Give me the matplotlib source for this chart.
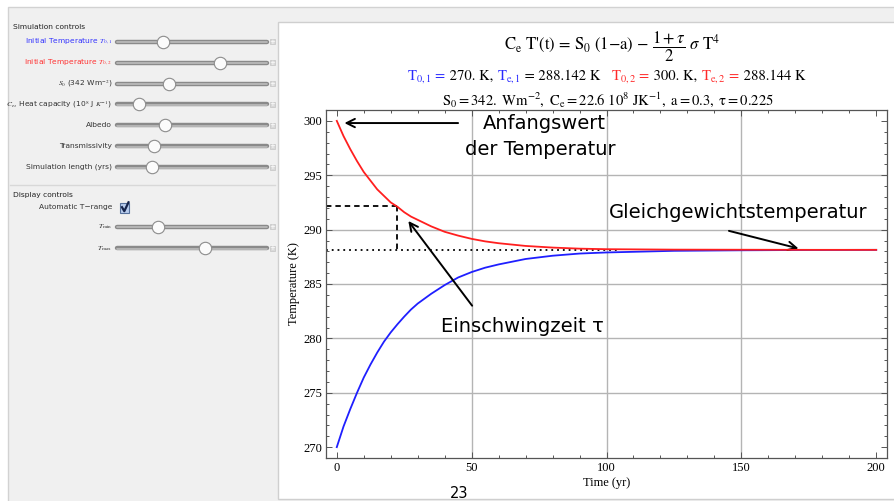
import matplotlib
matplotlib.use("Agg")
import matplotlib.pyplot as plt
from matplotlib.patches import Rectangle
from matplotlib.offsetbox import TextArea, HPacker, AnchoredOffsetbox

plt.rcParams["mathtext.fontset"] = "stix"

# temperature curves (years, K)
t_yr = [0, 2.5, 5, 7.5, 10, 12.5, 15, 17.5, 20, 22.5, 25, 27.5, 30,
        35, 40, 45, 50, 55, 60, 70, 80, 90, 100, 125, 150, 175, 200]
T_red = [300.0, 298.6, 297.4, 296.3, 295.3, 294.5, 293.7, 293.1, 292.5, 292.1, 291.6, 291.2, 290.9,
         290.3, 289.8, 289.45, 289.15, 288.92, 288.75, 288.5, 288.35, 288.25, 288.2, 288.16, 288.15, 288.14, 288.14]
T_blue = [270.0, 271.9, 273.5, 275.0, 276.4, 277.6, 278.7, 279.7, 280.55, 281.3, 282.0, 282.65, 283.2,
          284.1, 284.9, 285.6, 286.1, 286.5, 286.8, 287.3, 287.6, 287.8, 287.9, 288.05, 288.1, 288.13, 288.14]
T_eq = 288.14
tau_t, tau_T = 22.4, 292.2

x_ticks = [0, 50, 100, 150, 200]
y_ticks = [270, 275, 280, 285, 290, 295, 300]

# control panel: label, colour, knob position (0..1)
sim_controls = [
    (r"Initial Temperature $T_{0,1}$", "#3333ff", 0.305),
    (r"Initial Temperature $T_{0,2}$", "#ff3333", 0.687),
    (r"$S_0$ (342 Wm$^{-2}$)", "#333333", 0.347),
    (r"$C_e$, Heat capacity (10$^8$ J $K^{-1}$)", "#333333", 0.149),
    ("Albedo", "#333333", 0.32),
    ("Transmissivity", "#333333", 0.249),
    ("Simulation length (yrs)", "#333333", 0.231),
]
disp_controls = [(r"$T_{\rm min}$", 0.275), (r"$T_{\rm max}$", 0.587)]

fig = plt.figure(figsize=(8.94, 5.01), dpi=100)
fig.patch.set_facecolor("white")

bg = fig.add_axes([0, 0, 1, 1])
bg.set_xlim(0, 894)
bg.set_ylim(501, 0)
bg.axis("off")

bg.add_patch(Rectangle((8, 7), 900, 510, facecolor="#f0f0f0", edgecolor="#d2d2d2", lw=1))
bg.add_patch(Rectangle((278, 22), 640, 477, facecolor="white", edgecolor="#cfcfcf", lw=1))

small = dict(fontsize=5.4, family="DejaVu Sans")
track_x0, track_x1 = 117, 267


def slider(y, knob):
    bg.plot([track_x0, track_x1], [y, y], color="#8a8a8a", lw=3.2, solid_capstyle="round")
    bg.plot([track_x0, track_x1], [y + 0.6, y + 0.6], color="#bdbdbd", lw=1.2, solid_capstyle="round")
    bg.scatter([track_x0 + knob * (track_x1 - track_x0)], [y], s=80, facecolor="#fbfbfb",
               edgecolor="#8c8c8c", linewidth=0.8, zorder=3)
    bg.add_patch(Rectangle((270, y - 2.6), 5.2, 5.2, facecolor="#d9d9d9", edgecolor="#c4c4c4", lw=0.5))
    bg.text(272.6, y, "+", color="white", fontsize=5, ha="center", va="center")


bg.text(13, 27, "Simulation controls", color="#222222", va="center", **small)
for i, (lab, col, knob) in enumerate(sim_controls):
    y = 41.7 + i * 20.9
    bg.text(112, y, lab, color=col, ha="right", va="center", **small)
    slider(y, knob)

bg.plot([10, 275], [185, 185], color="#d8d8d8", lw=1)
bg.text(13, 195, "Display controls", color="#222222", va="center", **small)
bg.text(112, 207.5, "Automatic T\u2212range", color="#333333", ha="right", va="center", **small)
bg.add_patch(Rectangle((120, 203.3), 9.3, 9.3, facecolor="#b8cdee", edgecolor="#56719c", lw=0.8))
bg.plot([122, 124.3, 128.5], [207.2, 211.2, 202.3], color="#14234a", lw=1.6)
for j, (lab, knob) in enumerate(disp_controls):
    y = 226.7 + j * 21.6
    bg.text(112, y, lab, color="#333333", ha="right", va="center", **small)
    slider(y, knob)

bg.text(459, 494, "23", fontsize=10.5, ha="center", va="center", family="DejaVu Sans")

# equation block above the plot
serif = dict(fontsize=10.5, family="STIXGeneral")
bg.text(612, 47, "C$_\\mathrm{e}$ T'(t) = S$_0$ (1\u2212a) \u2212 $\\dfrac{1+\\tau}{2}\\ \\sigma$ T$^4$",
        ha="center", va="center", fontsize=12, family="STIXGeneral")

pieces = [
    (r"$\mathrm{T_{0,1}}$ =", "#2a2aff"), (" 270. K, ", "black"),
    (r"$\mathrm{T_{e,1}}$", "#2a2aff"), (" = 288.142 K   ", "black"),
    (r"$\mathrm{T_{0,2}}$ =", "#ff2a2a"), (" 300. K, ", "black"),
    (r"$\mathrm{T_{e,2}}$ =", "#ff2a2a"), (" 288.144 K", "black"),
]
row = HPacker(children=[TextArea(s, textprops=dict(color=c, **serif)) for s, c in pieces],
              align="baseline", pad=0, sep=0)
bg.add_artist(AnchoredOffsetbox(loc="center", child=row, bbox_to_anchor=(606, 77),
                                bbox_transform=bg.transData, frameon=False, pad=0, borderpad=0))

bg.text(608, 100, r"$\mathrm{S_0 = 342.\ Wm^{-2},\ C_e = 22.6\ 10^8\ JK^{-1},\ a = 0.3,\ \tau = 0.225}$",
        ha="center", va="center", **serif)

# main plot
ax = fig.add_axes([326 / 894, 1 - 458 / 501, (887 - 326) / 894, (458 - 110) / 501])
ax.plot(t_yr, T_blue, color="#1f1fff", lw=1.3, zorder=3)
ax.plot(t_yr, T_red, color="#ff1f1f", lw=1.3, zorder=4)

ax.set_xlim(-4, 204)
ax.set_ylim(269.0, 301.0)
ax.set_xticks(x_ticks)
ax.set_yticks(y_ticks)
ax.set_xticks(range(0, 201, 10), minor=True)
ax.set_yticks(range(270, 301), minor=True)
for v in x_ticks[1:-1]:
    ax.axvline(v, color="#b4b4b4", lw=1, zorder=1)
for v in y_ticks[1:-1]:
    ax.axhline(v, color="#b4b4b4", lw=1, zorder=1)

ax.tick_params(which="both", direction="in", top=True, right=True, color="#555555", width=0.7)
ax.tick_params(which="major", length=4.5, labelsize=9, pad=3)
ax.tick_params(which="minor", length=2.5)
for lab in ax.get_xticklabels() + ax.get_yticklabels():
    lab.set_family("Liberation Serif")
for sp in ax.spines.values():
    sp.set_color("#555555")
    sp.set_linewidth(0.9)
ax.set_xlabel("Time (yr)", family="Liberation Serif", fontsize=9, labelpad=2)
ax.set_ylabel("Temperature (K)", family="Liberation Serif", fontsize=9, labelpad=2)

# time constant and equilibrium markers
ax.plot([-4, 104], [T_eq, T_eq], color="black", lw=1.3, ls=(0, (1, 2.2)), zorder=2)
ax.plot([-4, tau_t], [tau_T, tau_T], color="black", lw=1.3, ls=(0, (3, 2.2)), zorder=2)
ax.plot([tau_t, tau_t], [tau_T, T_eq], color="black", lw=1.3, ls=(0, (3, 2.2)), zorder=2)

note = dict(fontsize=14, family="DejaVu Sans", color="black")
arrow = dict(arrowstyle="->,head_length=0.6,head_width=0.3", color="black", lw=1.4)
ax.annotate("", xy=(1.8, 299.8), xytext=(46, 299.8), arrowprops=arrow, annotation_clip=False)
ax.text(77, 299.8, "Anfangswert", ha="center", va="center", **note)
ax.text(75.5, 297.4, "der Temperatur", ha="center", va="center", **note)
ax.annotate("", xy=(25.9, 291.0), xytext=(50.8, 282.8), arrowprops=arrow)
ax.text(69, 281.05, "Einschwingzeit \u03c4", ha="center", va="center", **note)
ax.text(149, 291.6, "Gleichgewichtstemperatur", ha="center", va="center", **note)
ax.annotate("", xy=(172.2, 288.2), xytext=(144.4, 289.95), arrowprops=arrow)

fig.savefig("out.png", dpi=100)
